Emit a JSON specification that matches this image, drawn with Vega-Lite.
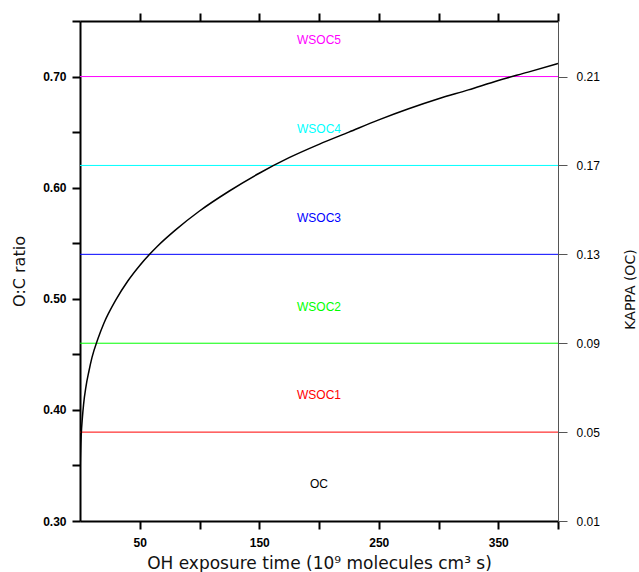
{
  "$schema": "https://vega.github.io/schema/vega-lite/v6.json",
  "width": 478,
  "height": 500,
  "autosize": {"type": "none"},
  "padding": {"left": 80, "top": 21, "right": 81, "bottom": 51},
  "background": "white",
  "config": {
    "view": {"stroke": null},
    "axis": {
      "grid": false,
      "domainColor": "black",
      "domainWidth": 2,
      "tickColor": "black",
      "tickWidth": 2,
      "tickSize": 8,
      "labelFont": "Liberation Sans",
      "labelFontSize": 12,
      "labelFontWeight": "bold",
      "labelColor": "black",
      "titleFont": "DejaVu Sans",
      "titleFontWeight": "normal",
      "titleColor": "#111111",
      "titleFontSize": 15
    }
  },
  "datasets": {
    "curve": [
      {"t": 0.03, "oc": 0.329},
      {"t": 0.1, "oc": 0.340},
      {"t": 0.25, "oc": 0.352},
      {"t": 0.5, "oc": 0.363},
      {"t": 1, "oc": 0.377},
      {"t": 2, "oc": 0.393},
      {"t": 3, "oc": 0.405},
      {"t": 5, "oc": 0.421},
      {"t": 7.5, "oc": 0.435},
      {"t": 10, "oc": 0.447},
      {"t": 15, "oc": 0.464},
      {"t": 20, "oc": 0.478},
      {"t": 30, "oc": 0.499},
      {"t": 40, "oc": 0.516},
      {"t": 50, "oc": 0.530},
      {"t": 65, "oc": 0.5475},
      {"t": 80, "oc": 0.562},
      {"t": 100, "oc": 0.579},
      {"t": 125, "oc": 0.597},
      {"t": 150, "oc": 0.613},
      {"t": 175, "oc": 0.627},
      {"t": 200, "oc": 0.639},
      {"t": 225, "oc": 0.650},
      {"t": 250, "oc": 0.661},
      {"t": 275, "oc": 0.671},
      {"t": 300, "oc": 0.680},
      {"t": 325, "oc": 0.688},
      {"t": 350, "oc": 0.6965},
      {"t": 375, "oc": 0.704},
      {"t": 400, "oc": 0.7117}
    ],
    "levels": [
      {"oc": 0.38, "color": "#ff0000"},
      {"oc": 0.46, "color": "#00ff00"},
      {"oc": 0.54, "color": "#0000ff"},
      {"oc": 0.62, "color": "#00ffff"},
      {"oc": 0.70, "color": "#ff00ff"}
    ],
    "labels": [
      {"t": 200, "oc": 0.333, "name": "OC", "color": "#000000"},
      {"t": 200, "oc": 0.413, "name": "WSOC1", "color": "#ff0000"},
      {"t": 200, "oc": 0.493, "name": "WSOC2", "color": "#00ff00"},
      {"t": 200, "oc": 0.573, "name": "WSOC3", "color": "#0000ff"},
      {"t": 200, "oc": 0.653, "name": "WSOC4", "color": "#00ffff"},
      {"t": 200, "oc": 0.733, "name": "WSOC5", "color": "#ff00ff"}
    ]
  },
  "layer": [
    {
      "data": {"name": "levels"},
      "mark": {"type": "rule", "strokeWidth": 1},
      "encoding": {
        "y": {
          "field": "oc", "type": "quantitative",
          "scale": {"domain": [0.30, 0.75], "nice": false, "zero": false},
          "axis": {
            "orient": "right",
            "values": [0.30, 0.38, 0.46, 0.54, 0.62, 0.70],
            "labelExpr": "format((datum.value - 0.30) * 0.5 + 0.01, '.2f')",
            "domainColor": "#555555",
            "domainWidth": 1,
            "tickColor": "#555555",
            "tickWidth": 1,
            "tickSize": 9,
            "labelFontWeight": "normal",
            "labelPadding": 9,
            "title": "KAPPA (OC)",
            "titleAngle": 270,
            "titleFontSize": 14,
            "titleX": 72,
            "titleY": 268,
            "titleAlign": "center",
            "titleBaseline": "middle"
          }
        },
        "color": {"field": "color", "type": "nominal", "scale": null}
      }
    },
    {
      "data": {"name": "curve"},
      "mark": {"type": "line", "color": "black", "strokeWidth": 1.5, "clip": true, "interpolate": "monotone"},
      "encoding": {
        "x": {
          "field": "t", "type": "quantitative",
          "scale": {"domain": [0, 400], "nice": false, "zero": false},
          "axis": {
            "orient": "bottom",
            "values": [50, 100, 150, 200, 250, 300, 350, 400],
            "labelExpr": "datum.value % 100 == 50 ? datum.label : ''",
            "labelPadding": 8,
            "title": "OH exposure time (10⁹ molecules cm³ s)",
            "titleFontSize": 17,
            "titleX": 239,
            "titleY": 42,
            "titleAlign": "center",
            "titleBaseline": "middle"
          }
        },
        "y": {
          "field": "oc", "type": "quantitative",
          "scale": {"domain": [0.30, 0.75], "nice": false, "zero": false},
          "axis": {
            "orient": "left",
            "values": [0.30, 0.35, 0.40, 0.45, 0.50, 0.55, 0.60, 0.65, 0.70, 0.75],
            "labelExpr": "round(datum.value * 100) % 10 == 0 ? format(datum.value, '.2f') : ''",
            "labelPadding": 6,
            "title": "O:C ratio",
            "titleFontSize": 16,
            "titleX": -61,
            "titleY": 250,
            "titleAlign": "center",
            "titleBaseline": "middle"
          }
        }
      }
    },
    {
      "data": {"name": "labels"},
      "mark": {"type": "text", "font": "Liberation Sans", "fontSize": 12, "baseline": "middle", "align": "center"},
      "encoding": {
        "x": {
          "field": "t", "type": "quantitative",
          "scale": {"domain": [0, 400], "nice": false, "zero": false},
          "axis": {
            "orient": "top",
            "values": [50, 100, 150, 200, 250, 300, 350, 400],
            "labels": false,
            "title": null
          }
        },
        "y": {"field": "oc", "type": "quantitative", "axis": null},
        "text": {"field": "name"},
        "color": {"field": "color", "type": "nominal", "scale": null}
      }
    }
  ],
  "resolve": {"axis": {"x": "independent", "y": "independent"}}
}
